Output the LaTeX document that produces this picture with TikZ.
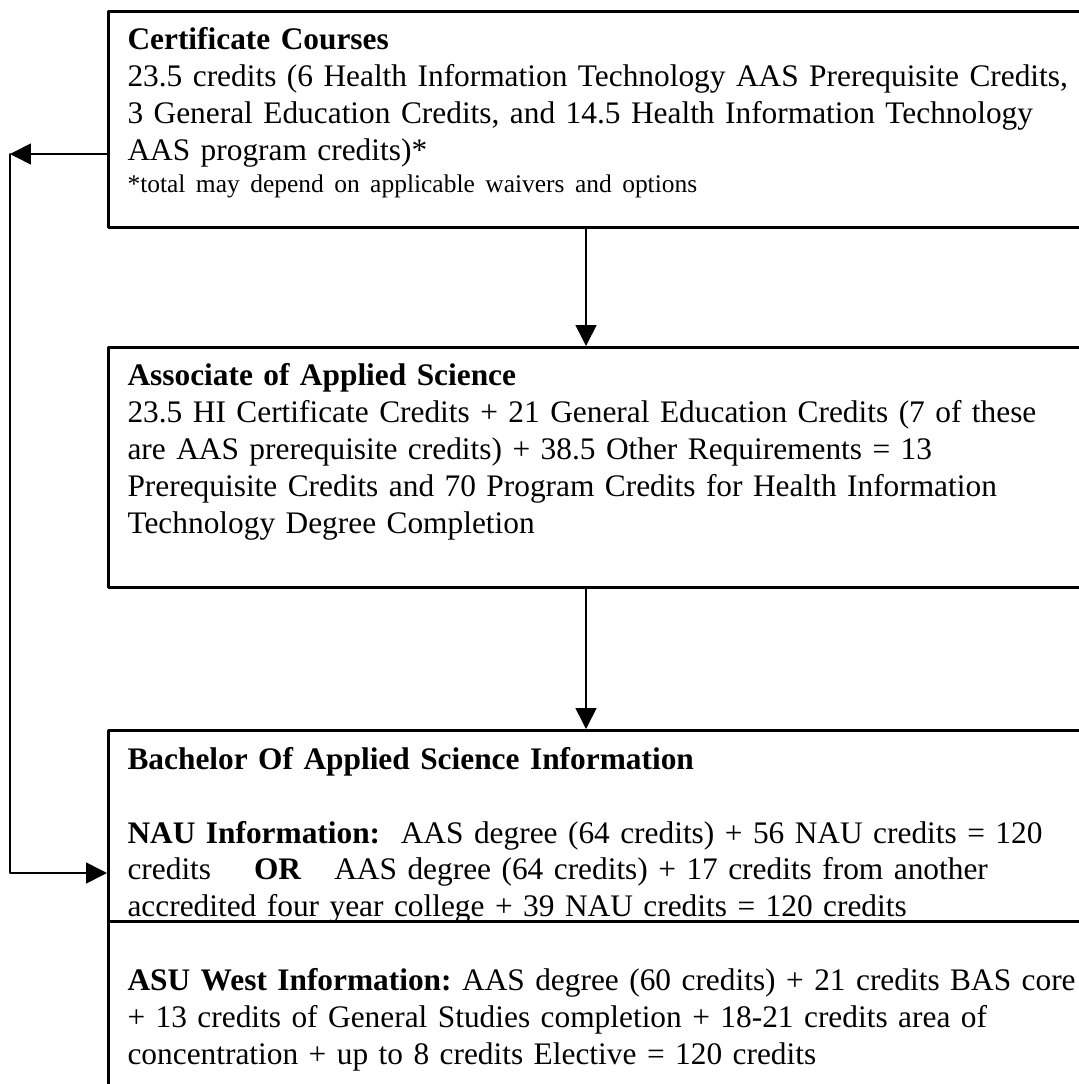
\documentclass[tikz,border=0pt]{standalone}
\usepackage{fontspec}
\setmainfont{Liberation Serif}
\frenchspacing
\usetikzlibrary{arrows.meta}
\tikzset{
  box/.style={draw, line width=1pt, rectangle, inner sep=0pt, anchor=north west},
  boxtext/.style={anchor=base west, inner sep=0pt, text width=400pt, align=left,
    font=\fontsize{11.7}{13.8}\selectfont},
}
\begin{document}
\begin{tikzpicture}[line cap=round,line join=round,>={Triangle[length=7.8pt,width=7.8pt]},x=0.373pt,y=-0.373pt]
\useasboundingbox (0,0) rectangle (1079,1084);
\fill[white] (0,0) rectangle (1079,1084);
\clip (0,0) rectangle (1079,1084);
% boxes
\node[box, minimum width=374pt, minimum height=80.6pt] (cert) at (107,10) {};
\node[box, minimum width=374pt, minimum height=89.5pt] (aas) at (107,346) {};
\node[box, minimum width=374pt, minimum height=71.2pt] (nau) at (107,729) {};
\node[box, minimum width=374pt, minimum height=74.6pt] (asu) at (107,920) {};
% texts
\node[boxtext] (certtxt) at (127,50) {\textbf{Certificate Courses}\\
23.5 credits (6 Health Information Technology AAS Prerequisite Credits,\\
3 General Education Credits, and 14.5 Health Information Technology\\
AAS program credits)*\\[-1.9pt]
{\fontsize{9.5}{11.9}\selectfont *total may depend on applicable waivers and options}};
\node[boxtext] (aastxt) at (127,386) {\textbf{Associate of Applied Science}\\
23.5 HI Certificate Credits + 21 General Education Credits (7 of these\\
are AAS prerequisite credits) + 38.5 Other Requirements = 13\\
Prerequisite Credits and 70 Program Credits for Health Information\\
Technology Degree Completion};
\node[boxtext] (nautxt) at (127,769) {\textbf{Bachelor Of Applied Science Information}\\[13.8pt]
\textbf{NAU Information:}\hspace{7.7pt}AAS degree (64 credits) + 56 NAU credits = 120\\
credits\hspace{16pt}\textbf{OR}\hspace{12.3pt}AAS degree (64 credits) + 17 credits from another\\
accredited four year college + 39 NAU credits = 120 credits};
\node[boxtext] (asutxt) at (127,990) {\textbf{ASU West Information:} AAS degree (60 credits) + 21 credits BAS core\\
+ 13 credits of General Studies completion + 18-21 credits area of\\
concentration + up to 8 credits Elective = 120 credits};
% connectors
\coordinate (mid) at (586,0);
\coordinate (lft) at (10,154);
\coordinate (lfb) at (10,873);
\draw[->, line width=0.6pt] (cert.south -| mid) -- (aas.north -| mid);
\draw[->, line width=0.6pt] (aas.south -| mid) -- (nau.north -| mid);
\draw[->, line width=0.6pt] (cert.west |- lft) -- (lft);
\draw[->, line width=0.6pt] (lft) -- (lfb) -- (nau.west |- lfb);
\end{tikzpicture}
\end{document}
